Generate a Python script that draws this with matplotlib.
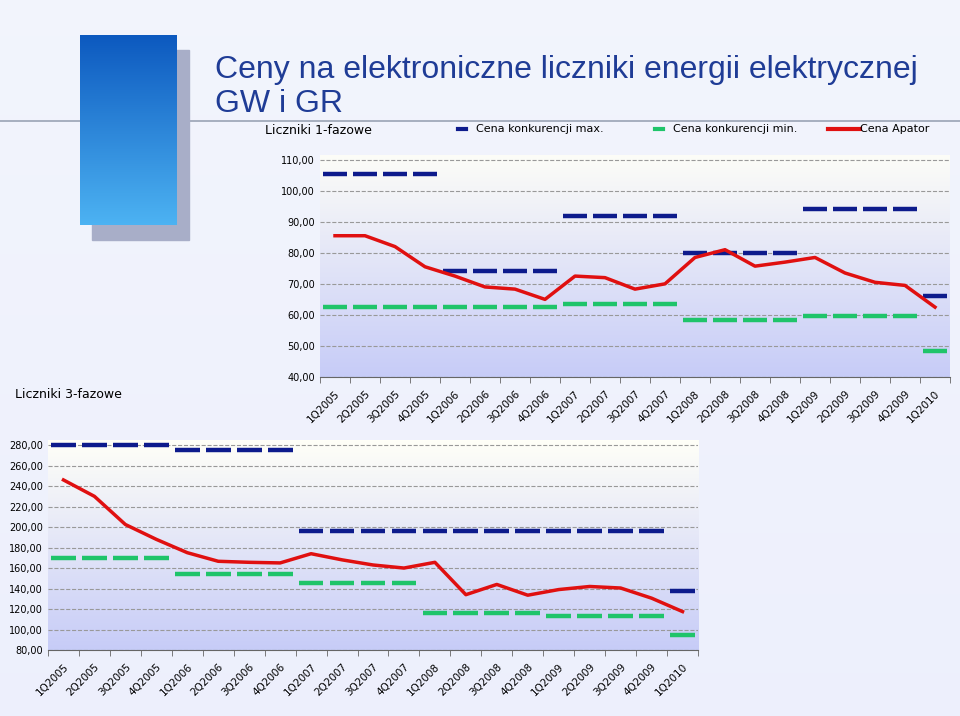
import numpy as np
import matplotlib.pyplot as plt
from matplotlib.patches import Rectangle

quarters = ['1Q2005', '2Q2005', '3Q2005', '4Q2005', '1Q2006', '2Q2006', '3Q2006', '4Q2006',
            '1Q2007', '2Q2007', '3Q2007', '4Q2007', '1Q2008', '2Q2008', '3Q2008', '4Q2008',
            '1Q2009', '2Q2009', '3Q2009', '4Q2009', '1Q2010']

# Liczniki 1-fazowe
max_1f = [105.5]*4 + [74]*4 + [92]*4 + [80]*4 + [94]*4 + [66]
min_1f = [62.5]*8 + [63.5]*4 + [58.5]*4 + [59.5]*4 + [48.5]
apator_1f = [85.5, 85.5, 82, 75.5, 72.5, 69, 68.3, 65, 72.5, 72, 68.3, 70,
             78.5, 81, 75.7, 77, 78.5, 73.5, 70.5, 69.5, 62.5]

# Liczniki 3-fazowe
max_3f = [280]*4 + [275]*4 + [196]*12 + [138]
min_3f = [170]*4 + [154]*4 + [145]*4 + [116]*4 + [113]*4 + [95]
apator_3f = [246, 230, 202.5, 188, 175, 166.6, 165.6, 165, 174, 168, 163, 160,
             165.6, 134, 144, 133.5, 139, 142, 140.5, 130.6, 117.5]

W, H = 960, 716
fig = plt.figure(figsize=(9.6, 7.16), dpi=100)

# slide background
bg = fig.add_axes([0, 0, 1, 1], zorder=-10)
grad = np.linspace(0, 1, 200)[:, None]
bg.imshow(np.dstack([0.95 - 0.02*grad, 0.96 - 0.02*grad, np.ones_like(grad)*0.99]),
          aspect='auto', extent=[0, 1, 0, 1])
bg.set_xlim(0, 1); bg.set_ylim(0, 1); bg.axis('off')

def fx(px):
    return px / W

def fy(py):
    return 1 - py / H

# picture in top left
bg.add_patch(Rectangle((fx(92), fy(240)), fx(97), 190/H, color='#a8aec8', zorder=1))
img = np.linspace(0, 1, 100)[:, None] * np.ones((1, 60))
bg.imshow(np.dstack([0.05 + 0.25*img, 0.35 + 0.35*img, 0.75 + 0.2*img]), aspect='auto',
          extent=[fx(80), fx(177), fy(225), fy(35)], zorder=2)
bg.plot([0, 1], [fy(121), fy(121)], color='#9aa3b5', lw=1.2, zorder=0)

fig.text(fx(215), fy(70), 'Ceny na elektroniczne liczniki energii elektrycznej',
         fontsize=23, color='#1f3c96', va='center', family='Liberation Sans')
fig.text(fx(215), fy(104), 'GW i GR', fontsize=23, color='#1f3c96', va='center',
         family='Liberation Sans')

fig.text(fx(265), fy(131), 'Liczniki 1-fazowe', fontsize=9, va='center')
fig.text(fx(15), fy(395), 'Liczniki 3-fazowe', fontsize=9, va='center')

# legend
for x0, col, lab in [(458, '#0d1b8c', 'Cena konkurencji max.'),
                     (655, '#1fc46a', 'Cena konkurencji min.')]:
    bg.plot([fx(x0), fx(x0 + 8)], [fy(129)]*2, color=col, lw=3, zorder=3)
    fig.text(fx(x0 + 18), fy(129), lab, fontsize=8, va='center')
bg.plot([fx(828), fx(860)], [fy(129)]*2, color='#e01010', lw=3, zorder=3)
fig.text(fx(860), fy(129), 'Cena Apator', fontsize=8, va='center')


def draw(ax, mx, mn, red, ylo, yhi, step):
    x = np.arange(len(quarters))
    grad2 = np.linspace(0, 1, 100)[:, None]
    ax.imshow(np.dstack([1 - 0.22*grad2, 1 - 0.2*grad2, np.ones_like(grad2)*0.97]),
              aspect='auto', extent=[-0.5, len(quarters) - 0.5, ylo, yhi + 5], zorder=0)
    ax.set_xlim(-0.5, len(quarters) - 0.5)
    ax.set_ylim(ylo, yhi)
    ax.hlines(mx, x - 0.4, x + 0.4, color='#0d1b8c', lw=3.2, zorder=3)
    ax.hlines(mn, x - 0.4, x + 0.4, color='#1fc46a', lw=3.2, zorder=3)
    ax.plot(x, red, color='#e01010', lw=2.5, zorder=4, solid_joinstyle='round')
    ticks = np.arange(ylo, yhi + 1, step)
    ax.set_yticks(ticks)
    ax.set_yticklabels([f'{t:.2f}'.replace('.', ',') for t in ticks], fontsize=7)
    ax.yaxis.grid(True, ls='--', color='#999999', lw=0.8)
    ax.set_xticks(x)
    ax.set_xticklabels(quarters, rotation=45, ha='right', rotation_mode='anchor', fontsize=7.5)
    ax.set_xticks(np.arange(len(quarters) + 1) - 0.5, minor=True)
    ax.tick_params(axis='x', which='major', length=0, pad=8)
    ax.tick_params(axis='x', which='minor', length=4, color='#666666')
    ax.tick_params(axis='y', length=0)
    for s in ['top', 'right', 'left']:
        ax.spines[s].set_visible(False)
    ax.spines['bottom'].set_color('#666666')
    ax.set_axisbelow(True)


ax1 = fig.add_axes([fx(320), fy(377), (950 - 320)/W, (377 - 155)/H])
draw(ax1, max_1f, min_1f, apator_1f, 40, 110, 10)
ax1.set_ylim(40, 111.5)

ax2 = fig.add_axes([fx(48), fy(650), (698 - 48)/W, (650 - 440)/H])
draw(ax2, max_3f, min_3f, apator_3f, 80, 280, 20)
ax2.set_ylim(80, 285)

fig.savefig('out.png', dpi=100)
